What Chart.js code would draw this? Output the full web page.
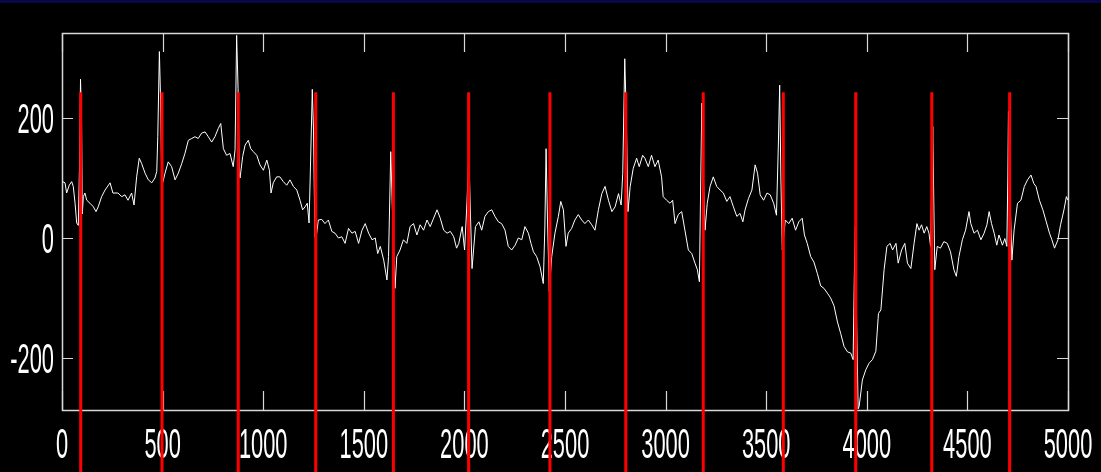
<!DOCTYPE html>
<html lang="en">
<head>
    <meta charset="UTF-8">
    <title>ECG beats</title>
    <script src="https://cdn.jsdelivr.net/npm/chart.js"></script>
    <style>
        html, body { margin: 0; padding: 0; background: #000; overflow: hidden; }
        #topbar { position: absolute; left: 0; top: 0; width: 1101px; height: 3px; background: #07074a; }
        canvas { display: block; }
    </style>
</head>
<body>
    <div id="topbar"></div>
    <canvas id="ecg" width="1101" height="472"></canvas>

    <script>
        // sample index of the traced signal and its amplitude
        var sampleIdx = [
            3, 15, 23, 36, 48, 56, 65, 73, 81, 87, 92, 97, 101, 106, 114, 123, 139, 156, 169, 180,
            197, 214, 239, 253, 278, 297, 313, 328, 346, 358, 371, 384, 396, 413, 429, 446, 462, 471, 476, 484,
            490, 496, 512, 528, 545, 562, 578, 595, 611, 628, 645, 661, 677, 694, 711, 727, 744, 760, 777, 789,
            802, 818, 835, 851, 860, 868, 875, 881, 885, 898, 910, 926, 938, 951, 968, 984, 1001, 1018, 1031, 1039,
            1050, 1067, 1083, 1100, 1117, 1133, 1150, 1167, 1183, 1196, 1208, 1219, 1228, 1235, 1244, 1250, 1257, 1262, 1274, 1291,
            1307, 1324, 1341, 1357, 1374, 1391, 1407, 1424, 1441, 1457, 1474, 1491, 1507, 1524, 1541, 1557, 1569, 1582, 1599, 1615,
            1623, 1630, 1634, 1641, 1655, 1664, 1680, 1697, 1714, 1730, 1747, 1764, 1780, 1797, 1814, 1830, 1847, 1864, 1880, 1897,
            1914, 1930, 1947, 1961, 1972, 1989, 2001, 2013, 2022, 2030, 2038, 2055, 2072, 2086, 2102, 2119, 2136, 2152, 2169, 2185,
            2202, 2218, 2235, 2252, 2268, 2285, 2301, 2318, 2331, 2343, 2359, 2376, 2392, 2400, 2406, 2413, 2422, 2434, 2450, 2467,
            2479, 2492, 2505, 2516, 2533, 2549, 2566, 2583, 2599, 2616, 2633, 2649, 2666, 2683, 2699, 2716, 2733, 2749, 2766, 2779,
            2787, 2797, 2805, 2813, 2824, 2839, 2856, 2869, 2886, 2897, 2914, 2930, 2947, 2963, 2980, 2988, 3005, 3022, 3035, 3047,
            3063, 3080, 3096, 3113, 3130, 3146, 3158, 3168, 3174, 3180, 3186, 3196, 3207, 3221, 3237, 3254, 3271, 3287, 3304, 3320,
            3337, 3354, 3370, 3384, 3395, 3412, 3429, 3445, 3457, 3470, 3487, 3504, 3520, 3537, 3551, 3560, 3567, 3573, 3580, 3595,
            3612, 3629, 3646, 3662, 3679, 3690, 3704, 3721, 3737, 3754, 3771, 3787, 3804, 3820, 3837, 3854, 3870, 3887, 3904, 3920,
            3932, 3938, 3943, 3950, 3957, 3962, 3978, 3995, 4011, 4028, 4045, 4058, 4070, 4086, 4100, 4116, 4128, 4145, 4156, 4173,
            4189, 4202, 4219, 4235, 4249, 4260, 4272, 4285, 4298, 4309, 4317, 4323, 4328, 4333, 4338, 4350, 4366, 4383, 4400, 4416,
            4433, 4445, 4458, 4475, 4491, 4508, 4517, 4533, 4550, 4567, 4583, 4597, 4608, 4620, 4633, 4646, 4657, 4674, 4686, 4696,
            4701, 4704, 4711, 4721, 4732, 4749, 4766, 4783, 4799, 4816, 4830, 4841, 4858, 4875, 4892, 4908, 4920, 4933, 4950, 4963,
            4980, 4992, 5000
        ];
        var signalVals = [
            94, 92, 75, 88, 94, 86, 58, 25, 21, 120, 265, 200, 40, 69, 75, 63, 58, 52, 44, 52,
            69, 80, 92, 75, 75, 69, 72, 63, 75, 55, 102, 133, 124, 108, 97, 92, 100, 111, 169, 311,
            230, 86, 108, 127, 119, 97, 108, 124, 141, 163, 166, 169, 166, 175, 177, 169, 160, 169, 183, 191,
            149, 138, 141, 119, 147, 338, 250, 108, 100, 136, 155, 163, 149, 144, 138, 122, 113, 130, 113, 75,
            92, 102, 102, 94, 88, 97, 86, 80, 63, 47, 52, 58, 25, 120, 248, 180, 2, -3, 30, 31,
            24, 30, 11, 8, 0, 2, -9, 16, 8, 11, -9, 13, 24, 8, -3, 0, -26, -14, -37, -70,
            -31, 80, 144, 60, -84, -31, -20, -3, -9, 19, 24, 5, 22, 13, 30, 19, 33, 47, 33, 13,
            8, 11, 2, -17, -9, 19, -20, 60, 144, 40, -51, 19, 27, 13, 36, 44, 47, 36, 27, 24,
            13, -14, -20, -12, 0, -3, 19, 8, -9, -23, -31, -48, -76, 20, 149, 30, -89, -31, 8, 36,
            61, 47, -14, 8, 16, 30, 39, 30, 24, 30, 22, 13, 47, 74, 86, 63, 44, 52, 74, 55,
            108, 299, 200, 44, 86, 116, 133, 119, 138, 133, 119, 138, 119, 130, 102, 69, 63, 58, 63, 24,
            39, 44, 13, -20, -26, -42, -53, -73, 80, 225, 120, 13, 58, 86, 102, 86, 80, 75, 61, 69,
            52, 36, 41, 27, 47, 66, 80, 122, 108, 72, 63, 75, 72, 58, 38, 150, 255, 100, -20, 30,
            24, 33, 13, 27, 33, 5, -9, -31, -40, -59, -80, -84, -92, -100, -113, -140, -159, -181, -190, -192,
            -203, -64, 19, -150, -285, -281, -237, -220, -209, -203, -189, -126, -120, -53, -14, -9, -20, -9, -42, -20,
            -9, -42, -51, -9, 24, 13, 22, 8, 19, 8, -14, 100, 186, 60, -53, -14, -17, -6, -9, -23,
            -53, -64, -31, -3, 13, 44, 24, 8, 13, -3, 8, 22, 44, 24, 8, -12, 5, -12, -1, -14,
            100, 211, 80, -37, 13, 58, 63, 86, 97, 105, 91, 86, 63, 47, 27, 8, -3, -17, -3, 22,
            47, 69, 63
        ];

        // detected beats (red markers): sample index, marker spans beatTop down past the axis
        var beatIdx = [93, 497, 876, 1261, 1647, 2021, 2425, 2802, 3187, 3585, 3945, 4323, 4710];
        var beatTop = 243;
        var beatBottom = -420;

        var xTicks = [0, 500, 1000, 1500, 2000, 2500, 3000, 3500, 4000, 4500, 5000];
        var yTicks = [-200, 0, 200];

        var signalData = sampleIdx.map(function (x, i) { return { x: x, y: signalVals[i] }; });
        var beatData = [];
        beatIdx.forEach(function (x) {
            beatData.push({ x: x, y: beatTop }, { x: x, y: beatBottom }, { x: x, y: null });
        });

        // matlab style box: frame, inward ticks, narrow tick labels
        var matlabAxes = {
            id: 'matlabAxes',
            beforeDatasetsDraw: function (chart) {
                var ctx = chart.ctx;
                var a = chart.chartArea;
                var xs = chart.scales.x, ys = chart.scales.y;
                ctx.save();
                ctx.strokeStyle = '#d8d8d8';
                ctx.lineWidth = 1.5;
                ctx.strokeRect(a.left + 0.5, a.top + 0.5, a.right - a.left, a.bottom - a.top);

                ctx.lineWidth = 1.2;
                ctx.beginPath();
                xTicks.forEach(function (v) {
                    var px = Math.round(xs.getPixelForValue(v)) + 0.5;
                    ctx.moveTo(px, a.bottom); ctx.lineTo(px, a.bottom - 19);
                    ctx.moveTo(px, a.top); ctx.lineTo(px, a.top + 19);
                });
                yTicks.forEach(function (v) {
                    var py = Math.round(ys.getPixelForValue(v)) + 0.5;
                    ctx.moveTo(a.left, py); ctx.lineTo(a.left + 11, py);
                    ctx.moveTo(a.right, py); ctx.lineTo(a.right - 11, py);
                });
                ctx.stroke();

                ctx.fillStyle = '#ffffff';
                ctx.font = '42px "Liberation Sans", Arial, sans-serif';
                ctx.textBaseline = 'alphabetic';
                ctx.textAlign = 'center';
                xTicks.forEach(function (v) {
                    ctx.save();
                    ctx.translate(xs.getPixelForValue(v), a.bottom + 48);
                    ctx.scale(0.52, 1);
                    ctx.fillText(String(v), 0, 0);
                    ctx.restore();
                });
                ctx.textAlign = 'right';
                yTicks.forEach(function (v) {
                    ctx.save();
                    ctx.translate(a.left - 8, ys.getPixelForValue(v) + 15);
                    ctx.scale(0.52, 1);
                    ctx.fillText(String(v), 0, 0);
                    ctx.restore();
                });
                ctx.restore();
            }
        };

        var chart = new Chart(document.getElementById('ecg').getContext('2d'), {
            type: 'line',
            data: {
                datasets: [
                    {
                        label: 'beats',
                        data: beatData,
                        borderColor: '#ff0000',
                        borderWidth: 3,
                        pointRadius: 0,
                        spanGaps: false,
                        clip: false,
                        order: 0
                    },
                    {
                        label: 'ECG',
                        data: signalData,
                        borderColor: '#ffffff',
                        borderWidth: 1,
                        pointRadius: 0,
                        tension: 0,
                        order: 1
                    }
                ]
            },
            options: {
                responsive: false,
                animation: false,
                devicePixelRatio: 1,
                layout: { padding: { left: 62, top: 33, right: 33, bottom: 62 } },
                plugins: { legend: { display: false }, tooltip: { enabled: false } },
                scales: {
                    x: { type: 'linear', min: 0, max: 5000, display: false },
                    y: { min: -287, max: 342, display: false }
                }
            },
            plugins: [matlabAxes]
        });
    </script>
</body>
</html>
